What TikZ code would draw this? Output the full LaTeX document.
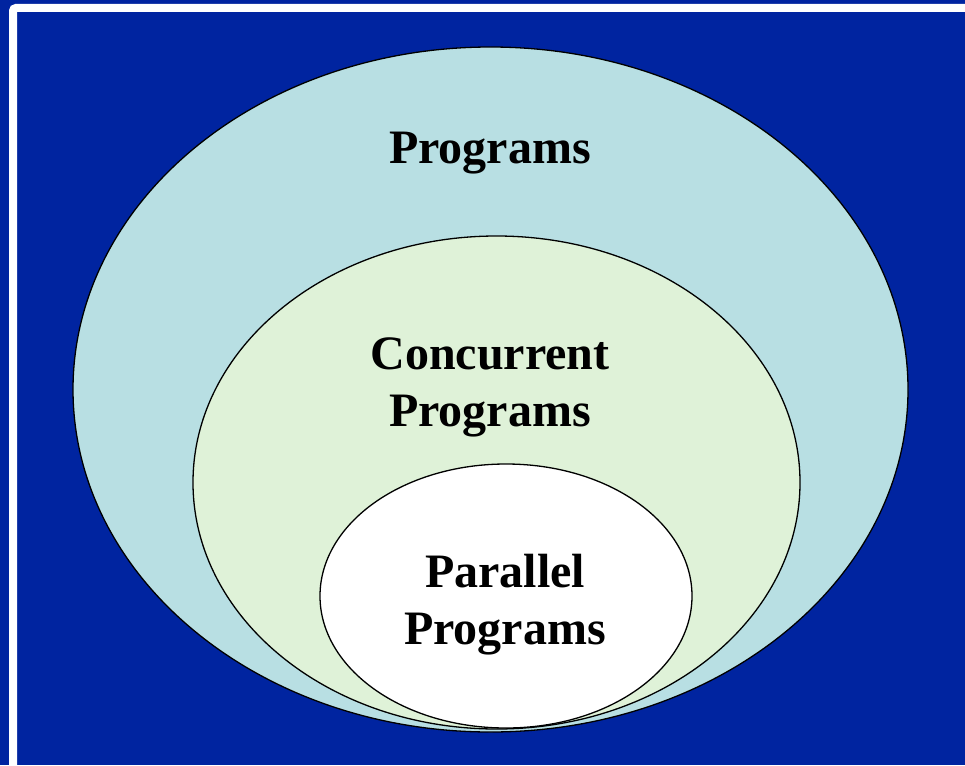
\documentclass[tikz,border=0pt]{standalone}
\usepackage{fontspec}
\setmainfont{Liberation Serif}
\definecolor{bgblue}{HTML}{0024A0}
\definecolor{outerc}{HTML}{B8DFE3}
\definecolor{midc}{HTML}{DFF2D8}
\begin{document}
\begin{tikzpicture}[x=1pt,y=-1pt,
  setfill/.style={draw=black, line width=1.3pt},
  lbl/.style={font=\fontsize{48}{57}\selectfont\bfseries, align=center, inner sep=0pt}]
\fill[bgblue] (0,0) rectangle (965,765);
\useasboundingbox (0,0) rectangle (965,765);
\draw[white, line width=8pt, rounded corners=3pt] (13,765) -- (13,8) -- (965,8);
\draw[setfill, fill=outerc] (490.5,389.5) ellipse [x radius=417.5, y radius=342.5];
\draw[setfill, fill=midc] (496.5,482.5) ellipse [x radius=303.5, y radius=246.5];
\draw[setfill, fill=white] (506,596) ellipse [x radius=186, y radius=132];
\node[lbl] (p) at (490,153) {Programs};
\node[lbl] (c) at (490,387) {Concurrent\\Programs};
\node[lbl] (q) at (505,605) {Parallel\\Programs};
\end{tikzpicture}
\end{document}
